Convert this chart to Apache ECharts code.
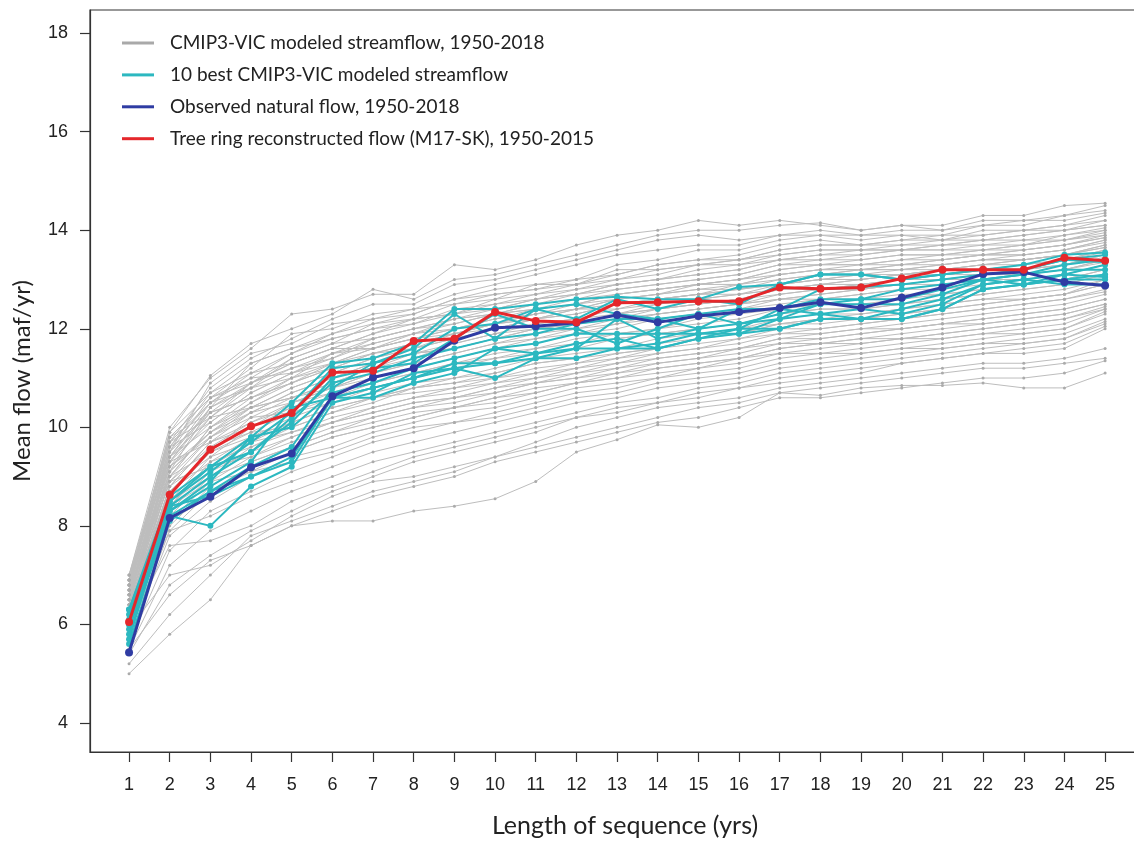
<!DOCTYPE html>
<html>
<head>
<meta charset="utf-8">
<script src="https://cdn.jsdelivr.net/npm/echarts@6.0.0/dist/echarts.min.js"></script>
<style>
html,body{margin:0;padding:0;background:#fff;}
#chart{width:1134px;height:842px;}
</style>
</head>
<body>
<div id="chart"></div>
<script>
// ---------------- DATA ----------------
const xTicks = [1,2,3,4,5,6,7,8,9,10,11,12,13,14,15,16,17,18,19,20,21,22,23,24,25];
const yTicks = [4,6,8,10,12,14,16,18];

const legendNames = [
  "CMIP3-VIC modeled streamflow, 1950-2018",
  "10 best CMIP3-VIC modeled streamflow",
  "Observed natural flow, 1950-2018",
  "Tree ring reconstructed flow (M17-SK), 1950-2015"
];

const observedFlow = [5.43,8.16,8.59,9.19,9.47,10.63,11.01,11.2,11.76,12.02,12.05,12.12,12.28,12.13,12.26,12.34,12.42,12.54,12.42,12.63,12.84,13.11,13.15,12.95,12.88];
const treeRingFlow = [6.05,8.63,9.55,10.02,10.29,11.11,11.15,11.75,11.8,12.34,12.16,12.13,12.53,12.54,12.56,12.56,12.84,12.81,12.84,13.02,13.2,13.2,13.2,13.44,13.38];

const best10 = [
  [6.3,8.6,9.2,9.8,10.5,11.3,11.4,11.7,12.4,12.4,12.5,12.6,12.65,12.6,12.6,12.85,12.9,13.1,13.1,13.0,13.1,13.2,13.3,13.5,13.55],
  [6.2,8.5,9.1,9.7,10.3,11.2,11.3,11.5,12.0,12.1,12.4,12.5,12.3,12.2,12.3,12.4,12.4,12.8,12.85,12.9,13.0,13.1,13.2,13.4,13.35],
  [6.1,8.4,9.0,9.5,10.2,10.9,11.1,11.4,11.6,11.8,11.9,12.1,12.2,12.2,12.0,12.1,12.2,12.5,12.6,12.6,12.8,13.0,13.1,13.2,13.2],
  [6.0,8.3,8.9,9.8,10.0,10.7,10.9,11.2,11.4,11.6,11.7,11.9,11.9,11.9,11.9,12.0,12.4,12.3,12.2,12.4,12.6,12.9,13.0,13.1,13.05],
  [5.9,8.3,8.8,9.3,10.4,10.6,10.8,11.0,11.3,11.3,11.5,11.7,11.8,11.6,11.8,12.0,12.0,12.2,12.2,12.2,12.4,12.8,12.9,13.0,13.0],
  [5.8,8.2,8.0,8.8,9.2,10.5,10.7,11.1,11.2,11.0,11.4,11.4,11.6,11.7,11.9,11.9,12.2,12.3,12.4,12.3,12.5,12.9,13.0,12.9,12.9],
  [6.3,8.5,9.2,9.5,10.1,11.0,11.2,11.3,11.8,12.3,12.0,12.0,11.7,12.0,12.3,12.1,12.3,12.5,12.5,12.5,12.7,13.0,13.1,13.3,13.4],
  [5.7,8.4,8.6,9.0,9.3,10.6,10.6,10.9,11.1,11.6,11.5,11.6,12.2,11.8,12.0,12.4,12.4,12.6,12.6,12.8,12.9,13.0,12.9,13.1,13.3],
  [6.0,8.2,8.7,9.2,9.6,10.8,11.3,11.6,12.3,11.8,12.4,12.2,12.6,12.4,12.6,12.5,12.9,13.1,13.1,13.0,13.1,13.2,13.2,13.4,13.5],
  [5.6,8.1,8.7,9.0,9.4,10.6,10.8,11.0,11.2,11.3,11.4,11.6,11.6,11.6,11.8,11.9,12.0,12.2,12.2,12.2,12.4,12.8,12.9,13.0,13.1]
];

const cmip3Runs = [
  [7.0,10.0,11.0,11.6,12.3,12.4,12.7,12.7,13.3,13.2,13.4,13.7,13.9,14.0,14.2,14.1,14.2,14.1,14.0,14.1,14.1,14.3,14.3,14.5,14.55],
  [6.9,9.9,11.05,11.7,12.0,12.3,12.8,12.6,13.0,13.1,13.3,13.5,13.7,13.9,14.0,14.0,14.1,14.15,14.0,14.1,14.0,14.2,14.2,14.3,14.5],
  [6.8,9.7,10.8,11.4,11.8,12.2,12.5,12.5,12.9,13.0,13.2,13.4,13.6,13.8,13.9,13.8,13.9,14.0,13.9,14.0,14.0,14.1,14.1,14.3,14.4],
  [6.7,9.8,10.6,11.2,11.9,12.0,12.3,12.4,12.7,12.9,13.1,13.3,13.5,13.6,13.7,13.7,13.9,13.9,13.9,13.9,13.9,14.1,14.2,14.2,14.35],
  [6.9,9.5,10.9,11.5,11.7,12.1,12.2,12.3,12.6,12.8,12.9,13.0,13.3,13.4,13.6,13.6,13.8,13.9,13.8,13.9,13.8,14.0,14.0,14.1,14.3],
  [6.6,9.6,10.5,11.0,11.5,11.9,12.2,12.4,12.5,12.7,12.8,13.0,13.1,13.3,13.4,13.5,13.7,13.8,13.7,13.8,13.9,13.9,14.0,14.0,14.2],
  [7.0,9.4,10.4,11.3,11.6,11.8,12.0,12.2,12.5,12.6,12.9,12.9,13.2,13.2,13.3,13.4,13.6,13.7,13.7,13.7,13.8,13.8,13.9,14.0,14.1],
  [6.5,9.3,10.3,10.9,11.4,11.7,12.1,12.2,12.3,12.5,12.7,12.8,13.0,13.1,13.3,13.3,13.5,13.6,13.6,13.7,13.7,13.8,13.8,13.9,14.05],
  [6.8,9.9,10.7,11.1,11.3,11.6,11.9,12.1,12.4,12.5,12.6,12.7,12.9,13.0,13.2,13.3,13.4,13.5,13.6,13.6,13.7,13.7,13.7,13.9,14.0],
  [6.4,9.2,10.2,10.8,11.2,11.5,11.8,12.0,12.2,12.4,12.6,12.8,12.9,13.0,13.1,13.2,13.4,13.4,13.5,13.6,13.6,13.6,13.7,13.8,13.95],
  [6.9,9.6,10.1,10.7,11.1,11.4,11.8,12.0,12.1,12.3,12.4,12.6,12.8,12.9,13.0,13.1,13.3,13.4,13.4,13.5,13.5,13.6,13.6,13.7,13.9],
  [6.6,9.0,10.0,10.6,11.0,11.5,11.7,11.9,12.2,12.3,12.5,12.6,12.7,12.8,12.9,13.0,13.2,13.3,13.3,13.4,13.5,13.5,13.6,13.7,13.85],
  [6.7,9.5,10.6,11.0,11.1,11.3,11.6,11.8,12.0,12.2,12.3,12.5,12.7,12.8,12.9,13.0,13.1,13.2,13.3,13.3,13.4,13.5,13.5,13.6,13.8],
  [6.3,9.1,9.9,10.5,10.9,11.3,11.6,11.9,12.0,12.1,12.3,12.4,12.6,12.7,12.8,12.9,13.1,13.2,13.2,13.3,13.3,13.4,13.5,13.6,13.75],
  [7.0,9.8,10.3,10.6,10.9,11.2,11.5,11.7,11.9,12.1,12.2,12.4,12.5,12.6,12.7,12.9,13.0,13.1,13.2,13.2,13.3,13.4,13.4,13.5,13.7],
  [6.5,8.9,9.8,10.4,10.8,11.1,11.4,11.6,11.8,12.0,12.2,12.3,12.5,12.6,12.7,12.8,12.9,13.0,13.1,13.2,13.2,13.3,13.4,13.5,13.65],
  [6.8,9.3,10.4,10.9,11.3,11.6,11.6,11.8,11.9,12.1,12.3,12.4,12.4,12.6,12.7,12.7,12.9,13.0,13.0,13.1,13.2,13.3,13.3,13.4,13.6],
  [6.2,8.8,9.7,10.3,10.7,11.0,11.3,11.5,11.7,11.9,12.1,12.2,12.4,12.5,12.6,12.7,12.8,12.9,13.0,13.1,13.1,13.2,13.3,13.4,13.55],
  [6.6,9.4,10.2,10.4,10.6,10.9,11.2,11.4,11.7,11.9,12.0,12.1,12.3,12.4,12.5,12.6,12.8,12.9,12.9,13.0,13.1,13.2,13.2,13.3,13.5],
  [6.4,8.7,9.5,10.2,10.6,10.9,11.2,11.5,11.6,11.8,12.0,12.1,12.2,12.4,12.5,12.6,12.7,12.8,12.9,13.0,13.0,13.1,13.2,13.3,13.45],
  [6.9,9.7,10.5,10.8,11.0,11.2,11.3,11.5,11.6,11.8,11.9,12.1,12.2,12.3,12.4,12.5,12.7,12.8,12.8,12.9,13.0,13.1,13.1,13.2,13.4],
  [6.0,8.5,9.4,10.0,10.5,10.8,11.1,11.3,11.5,11.7,11.9,12.0,12.2,12.3,12.4,12.5,12.6,12.7,12.8,12.9,12.9,13.0,13.1,13.2,13.35],
  [6.7,9.1,9.9,10.3,10.5,10.7,11.0,11.2,11.4,11.6,11.7,11.9,12.0,12.2,12.3,12.4,12.6,12.6,12.7,12.8,12.9,13.0,13.0,13.1,13.3],
  [6.3,8.6,9.6,10.1,10.4,10.6,10.9,11.1,11.3,11.5,11.6,11.8,11.9,12.0,12.1,12.2,12.4,12.5,12.5,12.6,12.7,12.8,12.9,13.0,13.2],
  [6.8,9.2,9.8,10.2,10.3,10.5,10.8,11.0,11.2,11.3,11.4,11.6,11.8,11.9,12.0,12.1,12.3,12.4,12.4,12.5,12.6,12.7,12.8,12.9,13.1],
  [6.1,8.4,9.3,9.8,10.2,10.5,10.7,10.9,11.0,11.2,11.4,11.5,11.6,11.8,11.9,12.0,12.2,12.3,12.3,12.4,12.5,12.6,12.7,12.8,13.0],
  [6.5,8.9,9.6,9.9,10.0,10.3,10.5,10.8,10.9,11.0,11.2,11.3,11.5,11.6,11.8,11.9,12.1,12.2,12.2,12.3,12.4,12.5,12.6,12.7,12.9],
  [5.9,8.2,9.0,9.6,10.0,10.3,10.6,10.7,10.8,11.0,11.1,11.3,11.4,11.6,11.7,11.8,12.0,12.0,12.1,12.2,12.3,12.4,12.5,12.6,12.8],
  [6.4,8.8,9.4,9.7,9.9,10.1,10.4,10.6,10.7,10.9,11.0,11.2,11.3,11.5,11.6,11.7,11.9,11.9,12.0,12.1,12.2,12.3,12.4,12.5,12.7],
  [6.0,8.3,9.1,9.5,9.8,10.1,10.3,10.5,10.6,10.8,10.9,11.1,11.2,11.4,11.5,11.6,11.8,11.8,11.9,12.0,12.1,12.2,12.3,12.4,12.6],
  [6.6,8.9,9.2,9.4,9.7,10.0,10.2,10.4,10.5,10.7,10.9,11.0,11.1,11.3,11.4,11.5,11.7,11.7,11.8,11.9,12.0,12.1,12.2,12.3,12.5],
  [5.8,8.0,8.8,9.3,9.6,9.9,10.1,10.3,10.4,10.6,10.8,10.9,11.1,11.2,11.3,11.4,11.6,11.7,11.7,11.8,11.9,12.0,12.1,12.2,12.45],
  [6.2,8.1,8.6,9.2,9.5,9.8,10.0,10.2,10.4,10.5,10.7,10.9,11.0,11.1,11.2,11.4,11.5,11.6,11.7,11.8,11.8,11.9,12.0,12.1,12.4],
  [5.7,7.8,8.5,9.0,9.4,9.6,9.9,10.1,10.3,10.4,10.6,10.8,10.9,11.0,11.2,11.3,11.5,11.5,11.6,11.7,11.8,11.9,11.9,12.0,12.35],
  [6.3,8.4,8.9,9.1,9.3,9.5,9.8,10.0,10.1,10.3,10.5,10.7,10.8,11.0,11.1,11.2,11.4,11.5,11.5,11.6,11.7,11.8,11.9,12.0,12.3],
  [5.6,7.5,8.3,8.7,9.1,9.4,9.7,9.9,10.1,10.2,10.4,10.6,10.7,10.9,11.0,11.1,11.3,11.4,11.5,11.6,11.6,11.7,11.8,11.9,12.2],
  [6.1,7.9,8.2,8.6,8.9,9.2,9.5,9.7,9.9,10.1,10.3,10.5,10.6,10.8,10.9,11.0,11.2,11.3,11.4,11.5,11.6,11.7,11.7,11.8,12.15],
  [5.5,7.2,7.9,8.3,8.7,9.0,9.3,9.5,9.7,9.9,10.1,10.3,10.5,10.6,10.8,10.9,11.1,11.2,11.3,11.4,11.5,11.6,11.7,11.8,12.1],
  [6.0,7.6,7.7,8.0,8.5,8.8,9.1,9.4,9.6,9.8,10.0,10.2,10.4,10.5,10.7,10.8,11.0,11.1,11.2,11.3,11.4,11.5,11.6,11.7,12.05],
  [5.4,6.8,7.4,7.9,8.3,8.7,9.0,9.3,9.5,9.7,9.9,10.2,10.3,10.5,10.6,10.8,10.9,11.0,11.1,11.3,11.4,11.5,11.5,11.6,12.0],
  [5.9,7.0,7.2,7.7,8.2,8.6,8.9,9.0,9.2,9.4,9.7,10.0,10.2,10.4,10.5,10.6,10.8,10.9,11.0,11.1,11.2,11.3,11.3,11.4,11.6],
  [5.2,6.2,7.0,7.8,8.1,8.4,8.7,8.9,9.1,9.4,9.6,9.8,10.0,10.2,10.4,10.5,10.7,10.8,10.9,11.0,11.1,11.2,11.2,11.3,11.4],
  [5.5,6.6,7.3,7.6,8.0,8.3,8.6,8.8,9.0,9.3,9.5,9.7,9.9,10.1,10.2,10.4,10.6,10.6,10.7,10.8,10.9,11.0,11.0,11.1,11.35],
  [5.0,5.8,6.5,7.6,8.0,8.1,8.1,8.3,8.4,8.55,8.9,9.5,9.75,10.05,10.0,10.2,10.7,10.65,10.8,10.85,10.85,10.9,10.8,10.8,11.1],
  [6.7,9.6,10.7,11.3,11.6,11.9,12.1,12.3,12.6,12.7,12.8,12.9,13.1,13.3,13.4,13.4,13.6,13.7,13.7,13.8,13.8,13.9,14.0,14.1,14.2],
  [6.5,9.4,10.5,11.1,11.5,11.8,12.0,12.1,12.3,12.6,12.7,12.9,13.0,13.2,13.3,13.4,13.5,13.6,13.6,13.6,13.7,13.8,13.9,14.0,14.1],
  [6.8,9.7,10.2,10.9,11.3,11.6,11.9,12.2,12.3,12.4,12.6,12.7,12.9,13.0,13.1,13.2,13.4,13.5,13.5,13.6,13.6,13.7,13.8,13.8,14.0],
  [6.6,9.1,10.4,10.8,11.4,11.7,11.8,12.0,12.2,12.3,12.5,12.7,12.8,12.9,13.0,13.1,13.3,13.3,13.4,13.5,13.5,13.6,13.7,13.8,13.9],
  [6.9,9.8,10.6,10.9,11.2,11.4,11.7,11.9,12.1,12.3,12.4,12.5,12.7,12.8,12.9,13.0,13.2,13.3,13.3,13.4,13.4,13.5,13.6,13.7,13.85],
  [6.4,9.3,10.1,10.7,11.1,11.5,11.6,11.8,12.0,12.2,12.4,12.5,12.6,12.7,12.9,12.9,13.1,13.2,13.2,13.3,13.4,13.5,13.5,13.6,13.8],
  [6.7,9.0,10.0,10.5,11.0,11.3,11.5,11.7,11.9,12.1,12.2,12.4,12.6,12.7,12.8,12.8,13.0,13.1,13.2,13.2,13.3,13.4,13.4,13.5,13.7],
  [6.5,9.5,10.3,10.6,10.9,11.2,11.5,11.6,11.8,12.0,12.2,12.3,12.5,12.6,12.7,12.8,12.9,13.0,13.1,13.1,13.2,13.3,13.4,13.5,13.65],
  [6.8,9.2,9.9,10.4,10.8,11.1,11.4,11.6,11.9,12.0,12.1,12.2,12.3,12.5,12.6,12.7,12.8,12.9,13.0,13.1,13.2,13.2,13.3,13.4,13.6],
  [6.2,9.0,9.8,10.3,10.7,11.0,11.3,11.5,11.6,11.8,12.0,12.1,12.3,12.4,12.5,12.6,12.8,12.8,12.9,13.0,13.1,13.1,13.2,13.3,13.5],
  [6.9,9.4,10.0,10.4,10.6,10.8,11.1,11.3,11.5,11.7,11.8,12.0,12.1,12.3,12.4,12.5,12.6,12.7,12.8,12.9,13.0,13.0,13.1,13.2,13.4],
  [6.3,8.8,9.7,10.1,10.5,10.8,11.0,11.2,11.4,11.6,11.8,11.9,12.1,12.2,12.3,12.4,12.5,12.6,12.7,12.8,12.8,12.9,13.0,13.1,13.3],
  [6.6,9.3,9.7,10.0,10.4,10.7,10.9,11.1,11.3,11.4,11.6,11.7,11.9,12.0,12.2,12.3,12.4,12.5,12.6,12.7,12.7,12.8,12.9,13.0,13.2],
  [6.1,8.6,9.5,9.9,10.3,10.6,10.8,11.0,11.2,11.4,11.5,11.7,11.8,11.9,12.0,12.1,12.3,12.4,12.4,12.5,12.6,12.7,12.8,12.9,13.1],
  [6.7,9.0,9.5,9.8,10.1,10.4,10.6,10.8,11.0,11.1,11.3,11.4,11.6,11.7,11.8,12.0,12.1,12.2,12.3,12.4,12.5,12.6,12.6,12.7,13.0],
  [6.0,8.4,9.2,9.7,10.1,10.4,10.6,10.8,10.9,11.1,11.3,11.4,11.5,11.6,11.8,11.9,12.1,12.1,12.2,12.3,12.4,12.5,12.6,12.7,12.9],
  [6.5,8.7,9.3,9.6,9.9,10.2,10.4,10.6,10.8,10.9,11.1,11.2,11.4,11.5,11.6,11.8,11.9,12.0,12.1,12.2,12.3,12.4,12.5,12.6,12.75],
  [5.9,8.1,8.9,9.4,9.8,10.1,10.3,10.5,10.6,10.8,11.0,11.1,11.3,11.4,11.5,11.6,11.8,11.9,12.0,12.0,12.1,12.2,12.3,12.4,12.6],
  [6.4,8.5,9.0,9.3,9.6,9.9,10.2,10.4,10.6,10.7,10.9,11.0,11.2,11.3,11.4,11.6,11.7,11.8,11.9,12.0,12.1,12.1,12.2,12.3,12.5],
  [5.8,7.9,8.7,9.1,9.5,9.8,10.0,10.2,10.4,10.6,10.7,10.9,11.0,11.2,11.3,11.4,11.6,11.7,11.8,11.8,11.9,12.0,12.1,12.2,12.4]
];

// ---------------- CHART ----------------
const COL_GRAY = '#bdbdbd', COL_GRAY_PT = '#ababab';
const COL_CYAN = '#2cb8c0', COL_BLUE = '#2f3ca3', COL_RED = '#e5272b';

const toPts = arr => arr.map((v, i) => [xTicks[i], v]);

const series = [];
cmip3Runs.forEach(run => series.push({
  type: 'line', name: legendNames[0], data: toPts(run), z: 1,
  symbol: 'circle', symbolSize: 3, showSymbol: true,
  lineStyle: { color: COL_GRAY, width: 1 },
  itemStyle: { color: COL_GRAY_PT }
}));
best10.forEach(run => series.push({
  type: 'line', name: legendNames[1], data: toPts(run), z: 2,
  symbol: 'circle', symbolSize: 6,
  lineStyle: { color: COL_CYAN, width: 2 },
  itemStyle: { color: COL_CYAN }
}));
series.push({
  type: 'line', name: legendNames[2], data: toPts(observedFlow), z: 3,
  symbol: 'circle', symbolSize: 8,
  lineStyle: { color: COL_BLUE, width: 3 },
  itemStyle: { color: COL_BLUE }
});
series.push({
  type: 'line', name: legendNames[3], data: toPts(treeRingFlow), z: 4,
  symbol: 'circle', symbolSize: 8,
  lineStyle: { color: COL_RED, width: 3 },
  itemStyle: { color: COL_RED }
});

const chart = echarts.init(document.getElementById('chart'), null, { renderer: 'canvas' });
chart.setOption({
  animation: false,
  backgroundColor: '#ffffff',
  grid: { left: 90, top: 10, width: 1070, height: 742, show: true, borderColor: '#333', borderWidth: 1.2, backgroundColor: 'transparent', outerBoundsMode: 'none', containLabel: false },
  legend: {
    orient: 'vertical', left: 117, top: 28.5, itemWidth: 32, itemHeight: 3, itemGap: 12.9,
    selectedMode: false,
    textStyle: { fontFamily: 'Lato', fontSize: 19, color: '#222', lineHeight: 18, padding: [0, 0, 0, 11] },
    data: [
      { name: legendNames[0], icon: 'rect', itemStyle: { color: '#a9a9a9' } },
      { name: legendNames[1], icon: 'rect', itemStyle: { color: COL_CYAN } },
      { name: legendNames[2], icon: 'rect', itemStyle: { color: COL_BLUE } },
      { name: legendNames[3], icon: 'rect', itemStyle: { color: COL_RED } }
    ]
  },
  xAxis: {
    type: 'value', min: 0.04, max: 26.35,
    name: 'Length of sequence (yrs)', nameLocation: 'middle', nameGap: 61,
    nameTextStyle: { fontFamily: 'Lato', fontSize: 25, color: '#222' },
    axisLine: { show: true, lineStyle: { color: '#333', width: 1.2 } },
    axisTick: { show: true, customValues: xTicks, length: 10, lineStyle: { color: '#333', width: 1.2 } },
    axisLabel: { customValues: xTicks, margin: 24, fontFamily: 'Liberation Sans', fontSize: 18, color: '#222' },
    splitLine: { show: false }
  },
  yAxis: {
    type: 'value', min: 3.41, max: 18.47,
    name: 'Mean flow (maf/yr)', nameLocation: 'middle', nameGap: 56, nameRotate: 90,
    nameTextStyle: { fontFamily: 'Lato', fontSize: 24, color: '#222' },
    axisLine: { show: true, lineStyle: { color: '#333', width: 1.2 } },
    axisTick: { show: true, customValues: yTicks, length: 10, lineStyle: { color: '#333', width: 1.2 } },
    axisLabel: { customValues: yTicks, margin: 22, fontFamily: 'Liberation Sans', fontSize: 18, color: '#222' },
    splitLine: { show: false }
  },
  series: series
});
</script>
</body>
</html>
